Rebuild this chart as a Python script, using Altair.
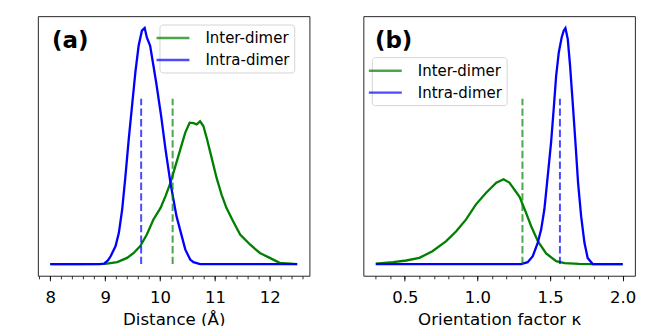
import altair as alt
import pandas as pd

FONT = "DejaVu Sans"
SERIES = ["Inter-dimer", "Intra-dimer"]
COLORS = ["#008000", "#0000ff"]

# ---------- Panel (a): distance distributions (relative density) ----------
a_inter_x = [8.0, 8.5, 9.0, 9.22, 9.40, 9.52, 9.64, 9.76, 9.88, 10.01, 10.10, 10.19,
             10.28, 10.37, 10.46, 10.54, 10.61, 10.67, 10.73, 10.79, 10.85, 10.94,
             11.03, 11.12, 11.21, 11.33, 11.46, 11.64, 11.82, 12.00, 12.18, 12.5]
a_inter_y = [0.0, 0.0, 0.001, 0.008, 0.026, 0.047, 0.076, 0.125, 0.189, 0.238, 0.288, 0.344,
             0.415, 0.486, 0.557, 0.599, 0.597, 0.592, 0.605, 0.585, 0.535, 0.451,
             0.366, 0.295, 0.238, 0.182, 0.125, 0.083, 0.047, 0.026, 0.005, 0.0]
a_intra_x = [8.0, 8.5, 8.9, 8.98, 9.05, 9.10, 9.19, 9.25, 9.31, 9.37, 9.43, 9.49, 9.55,
             9.61, 9.67, 9.72, 9.76, 9.82, 9.88, 9.93, 10.02, 10.10, 10.19, 10.30,
             10.46, 10.55, 10.61, 10.73, 11.0, 11.5, 12.0, 12.5]
a_intra_y = [0.0, 0.0, 0.0, 0.002, 0.015, 0.033, 0.076, 0.132, 0.231, 0.373, 0.529, 0.670,
             0.811, 0.925, 0.989, 1.0, 0.96, 0.925, 0.84, 0.769, 0.628, 0.486, 0.344,
             0.203, 0.062, 0.019, 0.008, 0.0, 0.0, 0.0, 0.0, 0.0]
a_means = [10.23, 9.656]          # Inter, Intra
a_major = [8, 9, 10, 11, 12]
a_minor = [7.8, 8.0, 8.2, 8.4, 8.6, 8.8, 9.0, 9.2, 9.4, 9.6, 9.8, 10.0, 10.2, 10.4,
           10.6, 10.8, 11.0, 11.2, 11.4, 11.6, 11.8, 12.0, 12.2, 12.4, 12.6]

# ---------- Panel (b): orientation factor distributions ----------
b_inter_x = [0.30, 0.42, 0.51, 0.60, 0.69, 0.785, 0.854, 0.922, 0.99, 1.06, 1.13, 1.18,
             1.22, 1.29, 1.335, 1.37, 1.418, 1.473, 1.542, 1.60, 1.70, 1.80, 2.0]
b_inter_y = [0.002, 0.008, 0.015, 0.026, 0.054, 0.097, 0.139, 0.189, 0.253, 0.302, 0.345,
             0.359, 0.345, 0.285, 0.217, 0.16, 0.095, 0.045, 0.012, 0.004, 0.001, 0.0, 0.0]
b_intra_x = [0.30, 1.0, 1.30, 1.346, 1.381, 1.415, 1.439, 1.461, 1.484, 1.507, 1.525,
             1.542, 1.56, 1.58, 1.594, 1.606, 1.622, 1.638, 1.656, 1.675, 1.693, 1.714,
             1.737, 1.759, 1.794, 2.0]
b_intra_y = [0.0, 0.0, 0.0, 0.008, 0.033, 0.09, 0.147, 0.232, 0.373, 0.514, 0.656, 0.797,
             0.896, 0.96, 0.989, 1.0, 0.953, 0.84, 0.684, 0.514, 0.344, 0.203, 0.09,
             0.026, 0.0, 0.0]
b_means = [1.31, 1.568]           # Inter, Intra
b_major = [0.5, 1.0, 1.5, 2.0]
b_minor = [0.3, 0.4, 0.5, 0.6, 0.7, 0.8, 0.9, 1.0, 1.1, 1.2, 1.3, 1.4, 1.5, 1.6, 1.7,
           1.8, 1.9, 2.0]

MEAN_TOP = 0.70
W, H = 272, 260


def panel(inter_x, inter_y, intra_x, intra_y, means, major, minor, fmt,
          xdom, xtitle, label, label_x, leg_x, leg_y):
    lines = pd.DataFrame({
        "x": inter_x + intra_x,
        "y": inter_y + intra_y,
        "series": [SERIES[0]] * len(inter_x) + [SERIES[1]] * len(intra_x),
    })
    mdf = pd.DataFrame({"x": means, "y0": [0, 0], "y1": [MEAN_TOP, MEAN_TOP],
                        "c": COLORS})
    xscale = alt.Scale(domain=xdom, nice=False, zero=False)
    yscale = alt.Scale(domain=[-0.05, 1.05], nice=False, zero=False)
    major_axis = alt.Axis(
        orient="bottom", values=major, format=fmt, grid=False, domain=False,
        tickSize=5, tickColor="black", tickWidth=0.9,
        labelFont=FONT, labelFontSize=16.5, labelColor="black", labelPadding=9,
        labelOverlap=False, labelFlush=False,
        title=xtitle, titleFont=FONT, titleFontSize=16.7, titleFontWeight="normal",
        titleColor="black", titleY=49, titleBaseline="alphabetic",
    )
    minor_axis = alt.Axis(
        orient="bottom", values=minor, grid=False, domain=False, labels=False,
        tickSize=3, tickColor="black", tickWidth=0.8, title=None,
    )
    yaxis = alt.Axis(
        ticks=False, labels=False, domain=False, grid=False,
        title="Probability density", titleFont=FONT, titleFontSize=16.7,
        titleFontWeight="normal", titleColor="black", titleX=-5, titleY=134,
        titleAngle=-90, titleBaseline="alphabetic", titleAlign="center",
    )
    legend = alt.Legend(
        title=None, orient="none", legendX=leg_x, legendY=leg_y,
        symbolType="M-2,0H2", symbolSize=272, symbolStrokeWidth=2.5,
        labelFont=FONT, labelFontSize=15, labelColor="black", labelOffset=23,
        padding=4, rowPadding=4, fillColor="rgba(255,255,255,0.8)",
        strokeColor="#d5d5d5", cornerRadius=3,
    )
    line = alt.Chart(lines).mark_line(strokeWidth=2.3).encode(
        x=alt.X("x:Q", scale=xscale, axis=major_axis),
        y=alt.Y("y:Q", scale=yscale, axis=yaxis),
        color=alt.Color("series:N", scale=alt.Scale(domain=SERIES, range=COLORS),
                        legend=legend),
    )
    rules = alt.Chart(mdf).mark_rule(strokeDash=[7.4, 3.2], strokeWidth=2,
                                     opacity=0.7).encode(
        x=alt.X("x:Q", scale=xscale, axis=minor_axis),
        y=alt.Y("y0:Q", scale=yscale, axis=None),
        y2="y1:Q",
        color=alt.Color("c:N", scale=None),
    )
    txt = alt.Chart(pd.DataFrame({"t": [label]})).mark_text(
        font=FONT, fontSize=23, fontWeight="bold", align="left",
        baseline="alphabetic", color="black",
    ).encode(x=alt.value(label_x), y=alt.value(31.5), text="t:N")
    return alt.layer(line, rules, txt).resolve_axis(x="independent").properties(
        width=W, height=H)


pa = panel(a_inter_x, a_inter_y, a_intra_x, a_intra_y, a_means, a_major, a_minor,
           ".0f", [7.775, 12.725], "Distance (Å)", "(a)", 14, 121.7, 8.3)
pb = panel(b_inter_x, b_inter_y, b_intra_x, b_intra_y, b_means, b_major, b_minor,
           ".1f", [0.215, 2.085], "Orientation factor κ", "(b)", 11.5, 8.4, 41)

chart = alt.hconcat(pa, pb, spacing=54, bounds="flush").resolve_scale(
    color="independent").resolve_legend(color="independent").configure(
    padding={"left": 29, "top": 7, "right": 0, "bottom": 6},
).configure_view(stroke="#111", strokeWidth=0.9)

chart.save("out.html", embed_options={"renderer": "svg", "actions": False})
